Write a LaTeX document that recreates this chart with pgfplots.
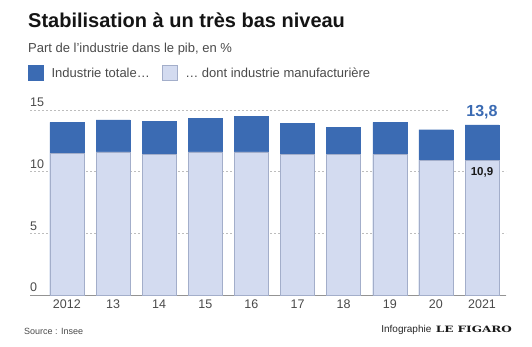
\documentclass[border=0pt]{standalone}
\usepackage{pgfplots}
\pgfplotsset{compat=1.18}
\usepackage{fontspec}
\setmainfont{Liberation Sans}
\newfontfamily\figfont{DejaVu Serif}
\definecolor{dark}{HTML}{3B6BB3}
\definecolor{light}{HTML}{D3DBF0}
\definecolor{lightedge}{HTML}{A3AECA}
\definecolor{gridc}{HTML}{BDBDBD}
\definecolor{txt}{HTML}{4A4A4A}
\begin{document}
\begin{tikzpicture}[x=1pt,y=1pt]
\path[use as bounding box] (0,0) rectangle (532,347);
\begin{axis}[
  at={(30pt,52pt)}, anchor=south west,
  scale only axis, width=476pt, height=185pt,
  xmin=-0.8, xmax=9.52, ymin=0, ymax=15,
  ybar,
  axis x line*=bottom, axis y line*=left,
  y axis line style={draw=none},
  x axis line style={draw=gray!85, line width=0.8pt, -},
  major tick length=0pt,
  ytick={0,5,10,15},
  ymajorgrids,
  grid style={gridc, dash pattern=on 2pt off 2pt, line width=0.5pt},
  yticklabel style={anchor=south west, inner sep=0pt, xshift=0pt, yshift=3pt, text=txt},
  xtick={0,...,9},
  xticklabels={2012,13,14,15,16,17,18,19,20,2021},
  xticklabel style={text=txt, yshift=-1pt},
  tick label style={font=\fontsize{12.5}{14}\selectfont},
  /pgf/number format/assume math mode=true,
  clip=false,
  legend style={at={(0,1)}, anchor=south west, xshift=-5pt, yshift=27pt, draw=none, fill=none,
    font=\fontsize{13}{15}\selectfont\color{txt}, legend columns=2,
    /tikz/every even column/.append style={column sep=10pt},
    /tikz/every odd column/.append style={column sep=6pt}},
  legend cell align=left,
]
\addplot[fill=dark, draw=dark, bar width=34pt, bar shift=0pt,
  legend image code/.code={\draw[fill=dark,draw=dark] (0pt,-7pt) rectangle (15pt,8pt);}]
  coordinates {(0,14.0) (1,14.2) (2,14.1) (3,14.3) (4,14.5) (5,13.9) (6,13.6) (7,14.0) (8,13.4) (9,13.8)};
\addlegendentry{Industrie totale…}
\addplot[fill=light, draw=lightedge, bar width=34pt, bar shift=0pt,
  legend image code/.code={\draw[fill=light,draw=lightedge] (0pt,-7pt) rectangle (15pt,8pt);}]
  coordinates {(0,11.5) (1,11.6) (2,11.4) (3,11.6) (4,11.6) (5,11.4) (6,11.4) (7,11.4) (8,10.9) (9,10.9)};
\addlegendentry{… dont industrie manufacturière}
\node[anchor=base, yshift=8pt, fill=white, inner xsep=18pt, inner ysep=1pt, text=dark,
  font=\bfseries\fontsize{16}{18}\selectfont] at (axis cs:9,13.8) {13,8};
\node[anchor=base, yshift=-14.5pt, inner sep=0pt, text=black!90,
  font=\bfseries\fontsize{11.5}{13}\selectfont] at (axis cs:9,10.9) {10,9};
\end{axis}
\node[anchor=base west, inner sep=0pt, text=black!92, font=\bfseries\fontsize{20}{24}\selectfont] at (28,319) {Stabilisation à un très bas niveau};
\node[anchor=base west, inner sep=0pt, text=txt, font=\fontsize{13}{15}\selectfont] at (28,294) {Part de l’industrie dans le pib, en \%};
\node[anchor=base west, inner sep=0pt, text=txt, font=\fontsize{9}{11}\selectfont] at (24,12) {Source : Insee};
\node[anchor=base east, inner sep=0pt, text=black!90] (fig) at (512,14) {\resizebox{76pt}{6.5pt}{\figfont\bfseries LE FIGARO}};
\node[anchor=base east, inner sep=0pt, text=black!85, font=\fontsize{10}{12}\selectfont] at ([xshift=-4pt]fig.base west) {Infographie};
\end{tikzpicture}
\end{document}
